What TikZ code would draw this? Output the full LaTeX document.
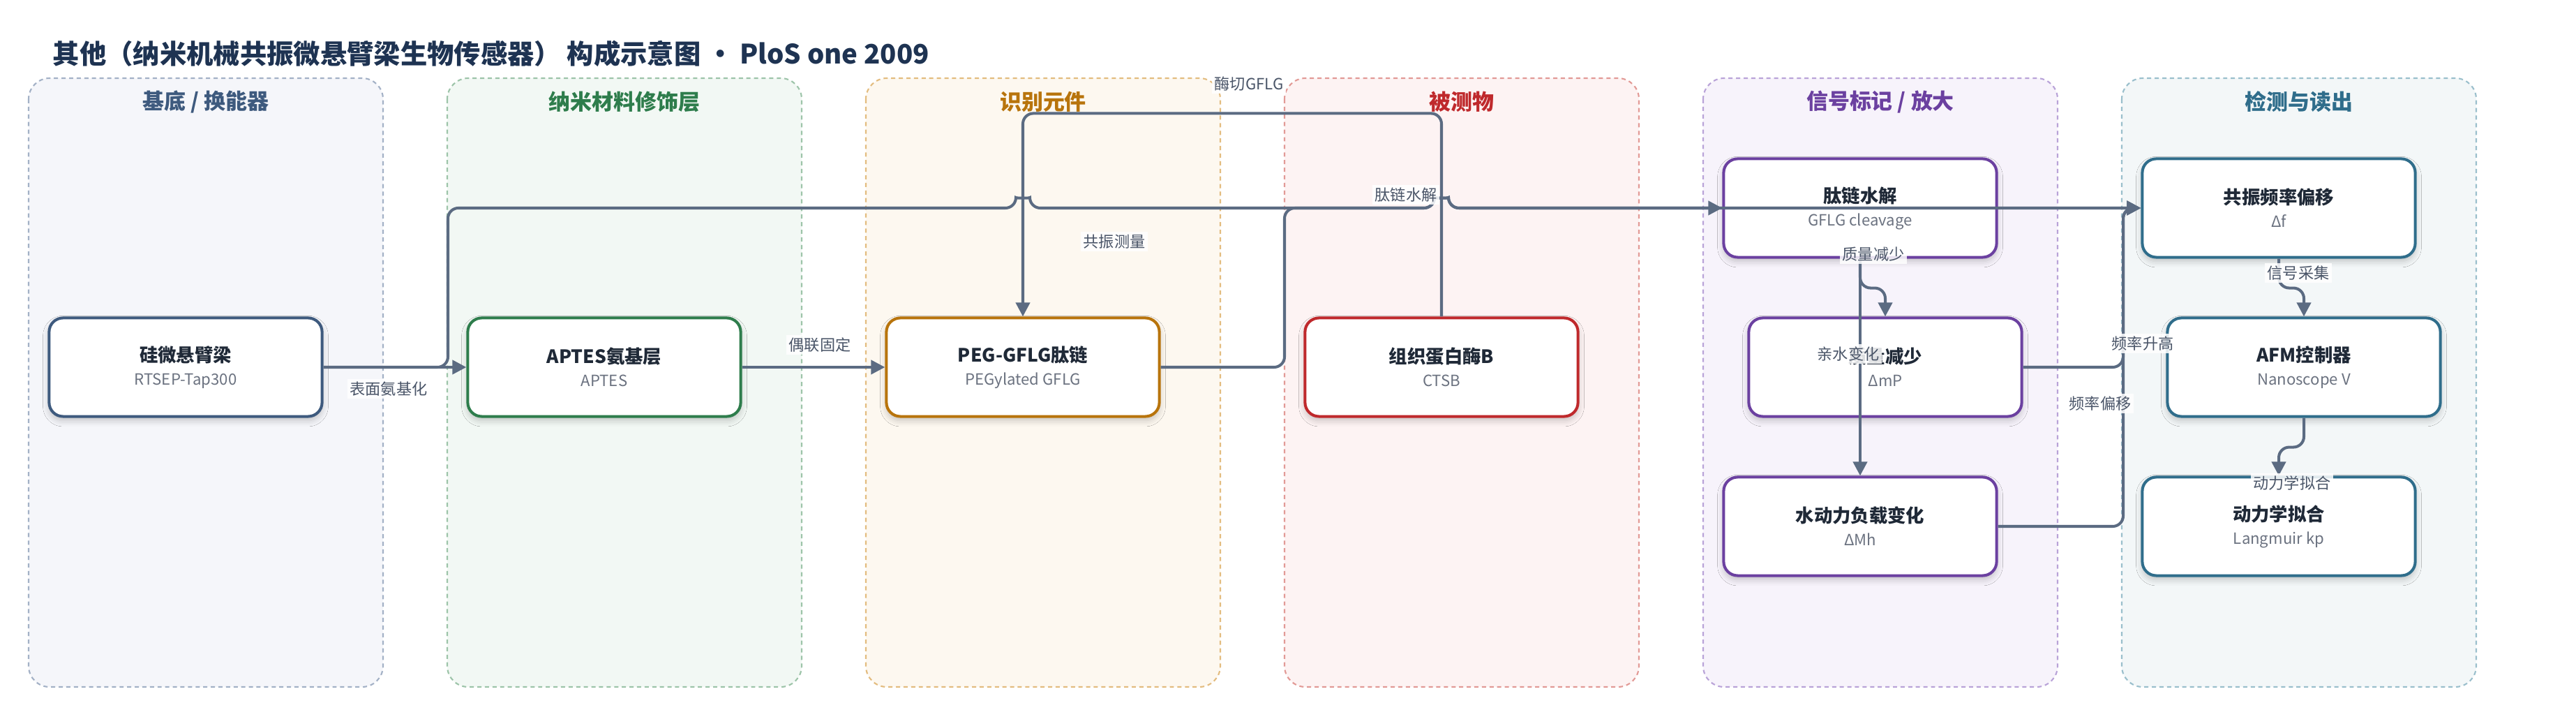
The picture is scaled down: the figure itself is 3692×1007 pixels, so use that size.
\documentclass[tikz,border=0pt]{standalone}
\usepackage{fontspec}
\setmainfont{Noto Sans CJK SC}
\usetikzlibrary{arrows.meta,shadows.blur}

\definecolor{linecol}{HTML}{5B6B82}
\definecolor{headcol}{HTML}{1E3352}
\definecolor{nodetext}{HTML}{1F2937}
\definecolor{subtext}{HTML}{6B7280}
\definecolor{labeltext}{HTML}{4A5568}
\definecolor{laneF0}{HTML}{F5F6FA}\definecolor{laneB0}{HTML}{A3B1C6}\definecolor{laneT0}{HTML}{3E5A7E}
\definecolor{laneF1}{HTML}{F2F8F4}\definecolor{laneB1}{HTML}{9DC4A9}\definecolor{laneT1}{HTML}{2E7D4C}
\definecolor{laneF2}{HTML}{FDF8F0}\definecolor{laneB2}{HTML}{E3BC7F}\definecolor{laneT2}{HTML}{B8740C}
\definecolor{laneF3}{HTML}{FDF3F3}\definecolor{laneB3}{HTML}{E29A96}\definecolor{laneT3}{HTML}{BF292C}
\definecolor{laneF4}{HTML}{F7F3FB}\definecolor{laneB4}{HTML}{B9A3D8}\definecolor{laneT4}{HTML}{6B40A0}
\definecolor{laneF5}{HTML}{F3F7F8}\definecolor{laneB5}{HTML}{9ABFCC}\definecolor{laneT5}{HTML}{2F6D8B}

\newcommand{\ntitle}[1]{{\fontsize{7.5}{9.4}\selectfont\bfseries\color{nodetext}#1}}
\newcommand{\nsub}[1]{{\color{subtext}#1}}

\tikzstyle{lane} = [line width=0.6pt, dash pattern=on 1.7pt off 1.4pt, rounded corners=0.3cm]
\tikzstyle{box} = [rectangle, rounded corners=0.2cm, line width=1.15pt, fill=white, minimum width=3.91cm, minimum height=1.41cm, inner sep=0pt, align=center, font=\fontsize{6.3}{9.4}\selectfont, blur shadow={shadow xshift=0pt, shadow yshift=-1.6pt, shadow blur radius=2.5pt, shadow opacity=22}]
\tikzstyle{flow} = [line width=1.15pt, draw=linecol, rounded corners=0.15cm, -{Triangle[length=0.2cm,width=0.2cm]}]
\tikzstyle{elabel} = [fill=white, fill opacity=0.85, text opacity=1, inner sep=1pt, text=labeltext, font=\fontsize{6.3}{7}\selectfont]

\begin{document}
\begin{tikzpicture}[x=0.01cm,y=-0.01cm]
	\useasboundingbox (0,0) rectangle (3692,1007);
	\node[anchor=west, inner sep=0pt, text=headcol, font=\fontsize{10.9}{13}\selectfont\bfseries] (head) at (75,77) {其他（纳米机械共振微悬臂梁生物传感器） 构成示意图 • PloS one 2009};
	\foreach \i/\name in {0/{基底 / 换能器},1/纳米材料修饰层,2/识别元件,3/被测物,4/{信号标记 / 放大},5/检测与读出}
	{
	\draw[lane, draw=laneB\i, fill=laneF\i] ({41+600*\i},112) rectangle ++(508,872);
	\node[text=laneT\i, font=\fontsize{8.8}{10}\selectfont\bfseries] (lt\i) at ({295+600*\i},146) {\name};
	}
	\node[box, draw=laneT0] (sil) at (266,526) {\ntitle{硅微悬臂梁}\\\nsub{RTSEP-Tap300}};
	\node[box, draw=laneT1] (apt) at (866,526) {\ntitle{APTES氨基层}\\\nsub{APTES}};
	\node[box, draw=laneT2] (peg) at (1466,526) {\ntitle{PEG-GFLG肽链}\\\nsub{PEGylated GFLG}};
	\node[box, draw=laneT3] (ctsb) at (2066,526) {\ntitle{组织蛋白酶B}\\\nsub{CTSB}};
	\node[box, draw=laneT4] (pep) at (2666,298) {\ntitle{肽链水解}\\\nsub{GFLG cleavage}};
	\node[box, draw=laneT4] (mass) at (2702,526) {\ntitle{质量减少}\\\nsub{ΔmP}};
	\node[box, draw=laneT4] (hyd) at (2666,754) {\ntitle{水动力负载变化}\\\nsub{ΔMh}};
	\node[box, draw=laneT5] (reso) at (3266,298) {\ntitle{共振频率偏移}\\\nsub{Δf}};
	\node[box, draw=laneT5] (afm) at (3302,526) {\ntitle{AFM控制器}\\\nsub{Nanoscope V}};
	\node[box, draw=laneT5] (kin) at (3266,754) {\ntitle{动力学拟合}\\\nsub{Langmuir kp}};

	\draw[flow] (sil.east) -- (apt.west);
	\draw[flow] (apt.east) -- (peg.west);
	\draw[flow] (sil.east) -- (642,526) -- (642,298) -- (1456,298) .. controls (1456,284) and (1476,284) .. (1476,298) -- (2056,298) .. controls (2056,284) and (2076,284) .. (2076,298) -- (reso.west);
	\draw[flow] (peg.east) -- (1841,526) -- (1841,298) -- (2056,298) .. controls (2056,284) and (2076,284) .. (2076,298) -- (pep.west);
	\draw[flow] (ctsb.north) -- ++(0,-291) -| (peg.north);
	\draw[flow] (pep.south) -- ++(0,42) -| (mass.north);
	\draw[flow] (pep.south) -- (hyd.north);
	\draw[flow] (mass.east) -- (3043,526) -- (3043,298) -- (reso.west);
	\draw[flow] (hyd.east) -- (3043,754) -- (3043,298) -- (reso.west);
	\draw[flow] (reso.south) -- ++(0,42) -| (afm.north);
	\draw[flow] (afm.south) -- ++(0,42) -| (kin.north);

	\node[elabel] (l1) at (557,557) {表面氨基化};
	\node[elabel] (l2) at (1175,494) {偶联固定};
	\node[elabel] (l3) at (1597,346) {共振测量};
	\node[elabel] (l4) at (2015,279) {肽链水解};
	\node[elabel] (l5) at (1790,120) {酶切GFLG};
	\node[elabel] (l6) at (2685,364) {质量减少};
	\node[elabel] (l7) at (2649,507) {亲水变化};
	\node[elabel] (l8) at (3071,492) {频率升高};
	\node[elabel] (l9) at (3010,578) {频率偏移};
	\node[elabel] (l10) at (3294,391) {信号采集};
	\node[elabel] (l11) at (3285,692) {动力学拟合};
\end{tikzpicture}
\end{document}
